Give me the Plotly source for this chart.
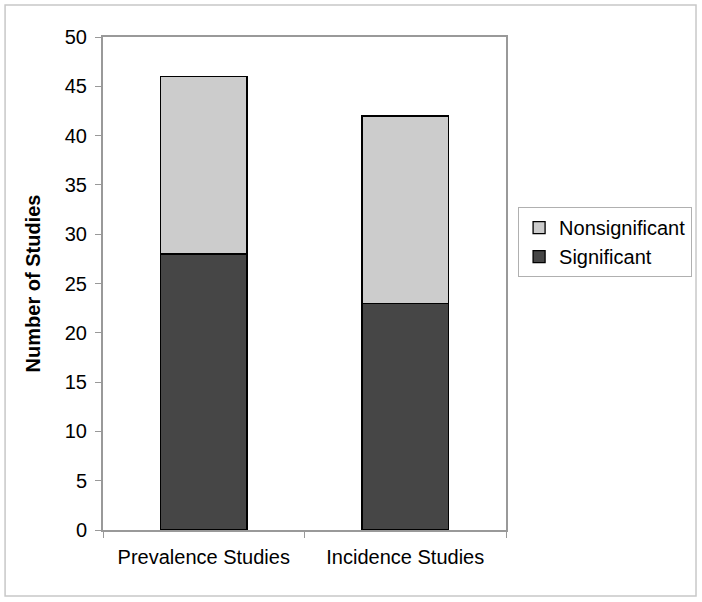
import plotly.graph_objects as go

categories = ["Prevalence Studies", "Incidence Studies"]
significant = [28, 23]
nonsignificant = [18, 19]
y_ticks = [0, 5, 10, 15, 20, 25, 30, 35, 40, 45, 50]

FONT = "Liberation Sans, Arial, sans-serif"

fig = go.Figure()
fig.add_trace(go.Bar(
    x=categories, y=significant, name="Significant",
    marker=dict(color="#464646", line=dict(color="#000000", width=1.3)),
))
fig.add_trace(go.Bar(
    x=categories, y=nonsignificant, name="Nonsignificant",
    marker=dict(color="#cccccc", line=dict(color="#000000", width=1.3)),
))

fig.update_layout(
    width=702, height=602,
    barmode="stack", bargap=0.57,
    plot_bgcolor="white", paper_bgcolor="white",
    margin=dict(l=103, r=196, t=37, b=72, autoexpand=False),
    font=dict(family=FONT, size=20, color="#000000"),
    showlegend=True,
    legend=dict(
        traceorder="reversed",
        x=1.03, xanchor="left", y=0.584, yanchor="middle",
        bordercolor="#b0b0b0", borderwidth=1,
        font=dict(size=20), itemwidth=30,
    ),
    xaxis=dict(
        showline=True, linecolor="#999999", linewidth=2, mirror=True,
        ticks="outside", tickson="boundaries", ticklen=6, tickcolor="#999999",
        tickfont=dict(size=20), showgrid=False, ticklabelstandoff=8,
    ),
    yaxis=dict(
        range=[0, 50], tickvals=y_ticks,
        showline=True, linecolor="#999999", linewidth=2, mirror=True,
        ticks="outside", ticklen=6, tickcolor="#999999",
        tickfont=dict(size=20), showgrid=False, zeroline=False,
        title=dict(text="<b>Number of Studies</b>", font=dict(size=20), standoff=19),
        ticklabelstandoff=4,
    ),
    shapes=[dict(
        type="rect", xref="paper", yref="paper",
        x0=-0.243, x1=1.4715, y0=-0.1339, y1=1.0649,
        line=dict(color="#c8c8c8", width=1.5), fillcolor="rgba(0,0,0,0)", layer="below",
    )],
)

fig.write_html(
    "out.html",
    config={"displayModeBar": False},
    post_script="document.body.style.margin='0';document.body.style.overflow='hidden';",
)
